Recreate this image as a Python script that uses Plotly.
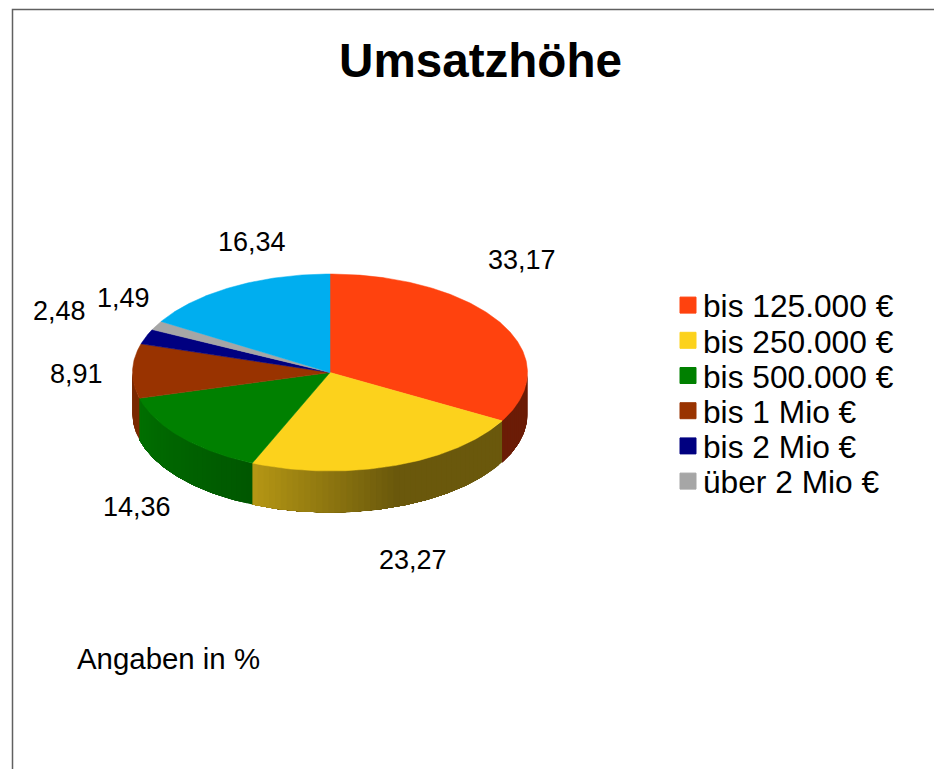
import numpy as np
import plotly.graph_objects as go

categories = ["bis 125.000 €", "bis 250.000 €", "bis 500.000 €", "bis 1 Mio €",
              "bis 2 Mio €", "über 2 Mio €", ""]
values = [33.17, 23.27, 14.36, 8.91, 2.48, 1.49, 16.34]
value_labels = ["33,17", "23,27", "14,36", "8,91", "2,48", "1,49", "16,34"]
colors = ["#ff420e", "#fcd21c", "#008000", "#993300", "#000080", "#a6a6a6", "#00aeef"]

# side wall shading per slice: brightness at start and end of the visible arc,
# and the share of the arc (counted from its end) over which it ramps
shade_start = [0.42, 0.42, 0.68, 0.80, 0.8, 0.8, 0.8]
shade_end = [0.42, 0.72, 0.87, 0.80, 0.8, 0.8, 0.8]
shade_ramp = [1.0, 0.51, 1.0, 1.0, 1.0, 1.0, 1.0]
# label offset from the slice's rim midpoint, in pixels
label_dx = [21.6, 19.7, -43.9, -56.5, -87, -32.6, 18.6]
label_dy = [-62.8, 94.2, 69.9, 3, -25.5, -27.3, -44.6]

W, H = 934, 769
CX, CY, RX, RY, DEPTH = 330, 372.5, 197.5, 98.5, 41.5


def rim(t):
    return CX + RX * np.sin(t), CY - RY * np.cos(t)


def shade(hex_color, f):
    r, g, b = int(hex_color[1:3], 16), int(hex_color[3:5], 16), int(hex_color[5:7], 16)
    return f"rgb({r * f:.0f},{g * f:.0f},{b * f:.0f})"


fig = go.Figure()
fractions = np.array(values) / np.sum(values)
edges = np.concatenate([[0], np.cumsum(fractions)]) * 2 * np.pi

# side walls: each strip runs to the end of its arc, so later strips overlap earlier ones
for i in range(len(values)):
    a = max(edges[i], np.pi / 2)
    b = min(edges[i + 1], 3 * np.pi / 2)
    if b <= a:
        continue
    n = max(1, int((b - a) / 0.03))
    ts = np.linspace(a, b, n + 1)
    for j in range(n):
        seg = np.linspace(ts[j], b, max(3, int((b - ts[j]) / 0.01)))
        x, y = rim(seg)
        xs = np.concatenate([x, x[::-1]])
        ys = np.concatenate([y, y[::-1] + DEPTH])
        u = (j + 0.5) / n
        f = shade_end[i] - min(1, (1 - u) / shade_ramp[i]) * (shade_end[i] - shade_start[i])
        fig.add_trace(go.Scatter(x=xs, y=ys, mode="lines", fill="toself", fillcolor=shade(colors[i], f),
                                 line=dict(width=0), showlegend=False, hoverinfo="skip"))

# top faces
for i in range(len(values)):
    ts = np.linspace(edges[i], edges[i + 1], max(3, int((edges[i + 1] - edges[i]) / 0.01)))
    x, y = rim(ts)
    fig.add_trace(go.Scatter(x=np.concatenate([[CX], x, [CX]]), y=np.concatenate([[CY], y, [CY]]),
                             mode="lines", fill="toself", fillcolor=colors[i],
                             line=dict(color=colors[i], width=0.5), showlegend=False,
                             name=categories[i] or "Sonstige",
                             text=value_labels[i], hoverinfo="text+name"))

# legend: one native legend per entry, to get the reference's tight line pitch
legends = {}
k = 0
for i, cat in enumerate(categories):
    if not cat:
        continue
    key = "legend" if k == 0 else f"legend{k + 1}"
    fig.add_trace(go.Scatter(x=[None], y=[None], mode="markers", name=cat, legend=key,
                             marker=dict(symbol="square", size=16, color=colors[i], angle=90, standoff=5,
                                         line=dict(color=colors[i], width=1))))
    legends[key] = dict(x=663 / W, y=1 - (305.5 + 35.2 * k) / H, xanchor="left", yanchor="middle",
                        font=dict(size=31.7, color="black"), bgcolor="rgba(0,0,0,0)",
                        itemclick=False, itemdoubleclick=False)
    k += 1

annotations = []
for i, lab in enumerate(value_labels):
    x, y = rim((edges[i] + edges[i + 1]) / 2)
    annotations.append(dict(x=x + label_dx[i], y=y + label_dy[i], text=lab, showarrow=False,
                            xanchor="center", yanchor="middle",
                            font=dict(size=27, color="black")))
annotations.append(dict(x=75, y=658, text="Angaben in %", showarrow=False, xanchor="left",
                        yanchor="middle", font=dict(size=29.4, color="black")))

fig.update_layout(
    width=W, height=H, autosize=False,
    margin=dict(l=0, r=0, t=0, b=0),
    paper_bgcolor="white", plot_bgcolor="white",
    font=dict(family="Liberation Sans, Arial, sans-serif", color="black"),
    title=dict(text="<b>Umsatzhöhe</b>", x=480.5 / W, xanchor="center", y=1 - 60 / H, yanchor="middle",
               font=dict(size=47.6, color="black")),
    xaxis=dict(range=[0, W], visible=False, fixedrange=True),
    yaxis=dict(range=[H, 0], visible=False, fixedrange=True),
    annotations=annotations,
    shapes=[dict(type="path", path=f"M 12.5 {H} L 12.5 9.5 L {W} 9.5", xref="x", yref="y",
                 line=dict(color="#606060", width=1.5))],
    **legends,
)
fig.write_html("out.html", config={"displayModeBar": False},
               post_script="document.body.style.margin='0';")
